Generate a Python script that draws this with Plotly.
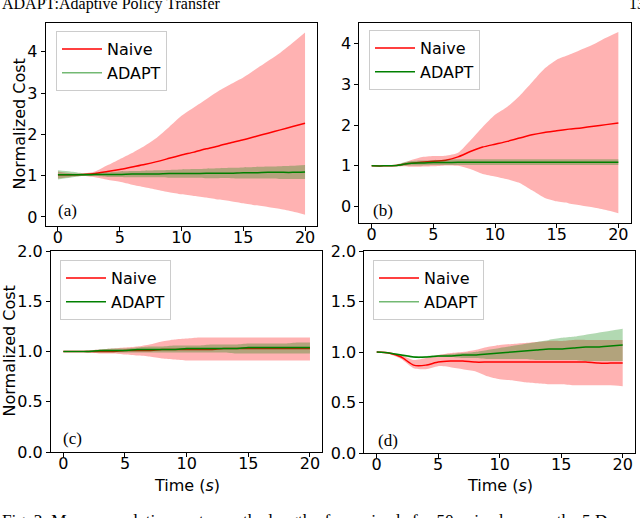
import plotly.graph_objects as go

# time grid (s)
T = [0, 1, 2, 3, 4, 5, 6, 7, 8, 9, 10, 11, 12, 13, 14, 15, 16, 17, 18, 19, 20]

# ---- panel (a) ----
naive_a_mean = [1.02, 1.02, 1.03, 1.05, 1.10, 1.15, 1.21, 1.27, 1.34, 1.42, 1.50,
                1.57, 1.65, 1.72, 1.80, 1.87, 1.95, 2.03, 2.11, 2.19, 2.27]
naive_a_hi = [1.10, 1.06, 1.05, 1.10, 1.25, 1.40, 1.55, 1.72, 1.92, 2.18, 2.45,
              2.65, 2.85, 3.05, 3.22, 3.38, 3.58, 3.78, 3.98, 4.22, 4.47]
naive_a_lo = [0.93, 0.97, 0.99, 0.96, 0.90, 0.85, 0.78, 0.72, 0.66, 0.60, 0.55,
              0.51, 0.47, 0.42, 0.38, 0.33, 0.28, 0.24, 0.19, 0.13, 0.05]
adapt_a_mean = [1.02, 1.02, 1.02, 1.03, 1.03, 1.03, 1.04, 1.04, 1.04, 1.05, 1.05,
                1.05, 1.06, 1.06, 1.06, 1.07, 1.07, 1.08, 1.08, 1.08, 1.09]
adapt_a_hi = [1.13, 1.10, 1.06, 1.06, 1.08, 1.10, 1.11, 1.12, 1.13, 1.14, 1.15,
              1.16, 1.17, 1.18, 1.19, 1.20, 1.21, 1.22, 1.23, 1.24, 1.26]
adapt_a_lo = [0.91, 0.95, 0.99, 0.99, 0.97, 0.97, 0.96, 0.96, 0.96, 0.95, 0.95,
              0.95, 0.94, 0.94, 0.94, 0.93, 0.93, 0.93, 0.92, 0.92, 0.92]

# ---- panel (b) ----
naive_b_mean = [1.00, 1.00, 1.01, 1.06, 1.09, 1.11, 1.14, 1.22, 1.35, 1.46, 1.53,
                1.60, 1.68, 1.76, 1.82, 1.86, 1.90, 1.93, 1.97, 2.01, 2.05]
naive_b_hi = [1.00, 1.00, 1.02, 1.12, 1.21, 1.24, 1.25, 1.32, 1.62, 1.95, 2.25,
              2.45, 2.72, 3.05, 3.38, 3.60, 3.72, 3.85, 3.98, 4.14, 4.28]
naive_b_lo = [1.00, 1.00, 0.99, 0.98, 0.98, 0.99, 1.01, 1.00, 0.92, 0.80, 0.74,
              0.67, 0.58, 0.40, 0.22, 0.13, 0.08, 0.03, -0.02, -0.08, -0.16]
adapt_b_mean = [1.00, 1.00, 1.01, 1.06, 1.07, 1.08, 1.08, 1.09, 1.09, 1.09, 1.09,
                1.09, 1.09, 1.09, 1.09, 1.09, 1.09, 1.09, 1.09, 1.09, 1.09]
adapt_b_hi = [1.00, 1.00, 1.03, 1.11, 1.13, 1.14, 1.15, 1.16, 1.16, 1.16, 1.16,
              1.16, 1.16, 1.16, 1.16, 1.16, 1.16, 1.16, 1.16, 1.16, 1.16]
adapt_b_lo = [1.00, 1.00, 0.99, 1.01, 1.01, 1.02, 1.02, 1.02, 1.02, 1.02, 1.02,
              1.02, 1.02, 1.02, 1.02, 1.02, 1.02, 1.02, 1.02, 1.02, 1.02]

# ---- panel (c) ----
naive_c_mean = [1.00, 1.00, 1.00, 1.00, 1.00, 1.01, 1.01, 1.01, 1.02, 1.02, 1.02,
                1.02, 1.02, 1.03, 1.03, 1.03, 1.03, 1.03, 1.03, 1.03, 1.03]
naive_c_hi = [1.00, 1.00, 1.01, 1.02, 1.03, 1.04, 1.05, 1.07, 1.10, 1.12, 1.13,
              1.14, 1.14, 1.14, 1.14, 1.14, 1.14, 1.14, 1.14, 1.14, 1.14]
naive_c_lo = [1.00, 1.00, 0.99, 0.98, 0.98, 0.97, 0.96, 0.95, 0.93, 0.92, 0.91,
              0.91, 0.91, 0.91, 0.91, 0.91, 0.91, 0.91, 0.91, 0.91, 0.91]
adapt_c_mean = [1.00, 1.00, 1.00, 1.01, 1.01, 1.01, 1.02, 1.02, 1.02, 1.02, 1.03,
                1.03, 1.03, 1.03, 1.03, 1.04, 1.04, 1.04, 1.04, 1.04, 1.04]
adapt_c_hi = [1.00, 1.00, 1.01, 1.02, 1.03, 1.03, 1.04, 1.05, 1.05, 1.06, 1.06,
              1.06, 1.07, 1.07, 1.07, 1.08, 1.08, 1.08, 1.08, 1.09, 1.09]
adapt_c_lo = [1.00, 1.00, 0.99, 0.99, 0.99, 0.99, 0.99, 0.99, 0.99, 0.99, 0.99,
              0.99, 0.99, 0.99, 0.98, 0.98, 0.98, 0.98, 0.98, 0.98, 0.98]

# ---- panel (d) ----
naive_d_mean = [1.00, 0.99, 0.95, 0.87, 0.87, 0.90, 0.91, 0.91, 0.90, 0.90, 0.90,
                0.90, 0.90, 0.90, 0.90, 0.90, 0.90, 0.90, 0.89, 0.89, 0.89]
naive_d_hi = [1.00, 1.00, 0.97, 0.92, 0.94, 0.97, 0.99, 1.00, 1.02, 1.05, 1.07,
              1.08, 1.09, 1.10, 1.11, 1.11, 1.12, 1.12, 1.12, 1.12, 1.12]
naive_d_lo = [1.00, 0.98, 0.93, 0.84, 0.83, 0.86, 0.85, 0.83, 0.81, 0.76, 0.73,
              0.72, 0.70, 0.69, 0.68, 0.68, 0.67, 0.67, 0.67, 0.67, 0.66]
adapt_d_mean = [1.00, 0.99, 0.97, 0.95, 0.95, 0.96, 0.96, 0.97, 0.97, 0.98, 0.99,
                1.00, 1.01, 1.02, 1.03, 1.03, 1.04, 1.05, 1.05, 1.06, 1.07]
adapt_d_hi = [1.00, 0.99, 0.98, 0.96, 0.96, 0.97, 0.98, 0.99, 1.00, 1.02, 1.04,
              1.06, 1.08, 1.10, 1.12, 1.14, 1.15, 1.17, 1.19, 1.21, 1.23]
adapt_d_lo = [1.00, 0.99, 0.96, 0.94, 0.94, 0.95, 0.95, 0.94, 0.94, 0.93, 0.93,
              0.93, 0.93, 0.92, 0.92, 0.92, 0.92, 0.91, 0.91, 0.91, 0.91]

PANEL_LABELS = ["(a)", "(b)", "(c)", "(d)"]
SERIES = ["Naive", "ADAPT"]

W, H = 640, 518
SANS = "DejaVu Sans"
SERIF = "Liberation Serif"
RED, GREEN = "#ff0000", "#008000"
RED_FILL, GREEN_FILL = "rgba(255,0,0,0.3)", "rgba(0,128,0,0.3)"

# pixel boxes: (left, right, top, bottom), y range, legend box (x, y), ADAPT legend colour
panels = [
    dict(box=(45.6, 317.4, 23, 226), yr=[-0.22, 4.70], dtick=1, fmt="d",
         data=(naive_a_mean, naive_a_hi, naive_a_lo, adapt_a_mean, adapt_a_hi, adapt_a_lo),
         leg=(56, 31), lg="rgba(0,128,0,0.55)", lab=(56, 210)),
    dict(box=(359.3, 630.7, 23, 223), yr=[-0.40, 4.50], dtick=1, fmt="d",
         data=(naive_b_mean, naive_b_hi, naive_b_lo, adapt_b_mean, adapt_b_hi, adapt_b_lo),
         leg=(369, 30), lg=GREEN, lab=(371, 210)),
    dict(box=(51, 322.3, 251, 452), yr=[0, 2], dtick=0.5, fmt=".1f",
         data=(naive_c_mean, naive_c_hi, naive_c_lo, adapt_c_mean, adapt_c_hi, adapt_c_lo),
         leg=(60, 260), lg=GREEN, lab=(61, 438)),
    dict(box=(364.4, 635, 251, 453), yr=[0, 2], dtick=0.5, fmt=".1f",
         data=(naive_d_mean, naive_d_hi, naive_d_lo, adapt_d_mean, adapt_d_hi, adapt_d_lo),
         leg=(373, 260), lg="rgba(0,128,0,0.55)", lab=(376, 440)),
]


def px(x):
    return x / W


def py(y):
    return 1 - y / H


fig = go.Figure()
layout = {}
annotations = []
for i, p in enumerate(panels):
    n = "" if i == 0 else str(i + 1)
    xa, ya = "x" + n, "y" + n
    legname = "legend" + n
    nm, nh, nl, am, ah, al = p["data"]
    spline = dict(shape="spline", smoothing=0.6)
    # bands + means (red under green)
    for hi, lo, mean, col, fc in [(nh, nl, nm, RED, RED_FILL), (ah, al, am, GREEN, GREEN_FILL)]:
        fig.add_trace(go.Scatter(x=T, y=hi, mode="lines", line=dict(width=0, **spline),
                                 showlegend=False, hoverinfo="skip", xaxis=xa, yaxis=ya))
        fig.add_trace(go.Scatter(x=T, y=lo, mode="lines", line=dict(width=0, **spline),
                                 fill="tonexty", fillcolor=fc, showlegend=False,
                                 hoverinfo="skip", xaxis=xa, yaxis=ya))
        fig.add_trace(go.Scatter(x=T, y=mean, mode="lines", line=dict(color=col, width=1.5, **spline),
                                 showlegend=False, xaxis=xa, yaxis=ya))
    # legend entries
    for name, col in zip(SERIES, [RED, p["lg"]]):
        fig.add_trace(go.Scatter(x=[None], y=[None], mode="lines", name=name,
                                 line=dict(color=col, width=1.5), legend=legname,
                                 xaxis=xa, yaxis=ya))

    l, r, t, b = p["box"]
    axis_common = dict(showline=True, mirror=True, linecolor="black", linewidth=1,
                       ticks="outside", ticklen=4, tickcolor="black", showgrid=False,
                       zeroline=False, automargin=False,
                       tickfont=dict(family=SANS, size=16, color="black"))
    layout["xaxis" + n] = dict(domain=[px(l), px(r)], range=[-1, 21], tickvals=[0, 5, 10, 15, 20],
                               anchor=ya, ticklabelstandoff=-7, **axis_common)
    layout["yaxis" + n] = dict(domain=[py(b), py(t)], range=p["yr"], dtick=p["dtick"],
                               tickformat=p["fmt"], anchor=xa, **axis_common)
    lx, ly = p["leg"]
    layout[legname] = dict(x=px(lx), y=py(ly), xanchor="left", yanchor="top",
                           bgcolor="rgba(255,255,255,0.8)", bordercolor="#cccccc", borderwidth=1,
                           font=dict(family=SANS, size=16, color="black"),
                           itemwidth=40, tracegroupgap=0, traceorder="normal")
    annotations.append(dict(x=px(p["lab"][0]), y=py(p["lab"][1]), xref="paper", yref="paper",
                            text=PANEL_LABELS[i], showarrow=False, xanchor="left",
                            yanchor="middle", font=dict(family=SERIF, size=17, color="black")))

# axis titles
for cx, cy in [(19, 124.5), (8.5, 351)]:
    annotations.append(dict(x=px(cx), y=py(cy), xref="paper", yref="paper",
                            text="Normalized Cost", textangle=-90, showarrow=False,
                            xanchor="center", yanchor="middle",
                            font=dict(family=SANS, size=16, color="black")))
for cx in [187, 500]:
    annotations.append(dict(x=px(cx), y=py(485), xref="paper", yref="paper",
                            text="Time (<i>s</i>)", showarrow=False,
                            xanchor="center", yanchor="middle",
                            font=dict(family=SANS, size=16, color="black")))

# page header / caption fragments
annotations.append(dict(x=0, y=py(4), xref="paper", yref="paper", xanchor="left", yanchor="middle",
                        text="ADAPT:Adaptive Policy Transfer", showarrow=False,
                        font=dict(family=SERIF, size=16, color="black")))
annotations.append(dict(x=px(627), y=py(4), xref="paper", yref="paper", xanchor="left",
                        yanchor="middle", text="13", showarrow=False,
                        font=dict(family=SERIF, size=16, color="black")))
annotations.append(dict(x=0, y=py(509), xref="paper", yref="paper", xanchor="left", yanchor="top",
                        text="Fig. 3: Mean cumulative cost over the length of an episode for 50 "
                             "episodes over the 5 Door environments",
                        showarrow=False, font=dict(family=SERIF, size=17.25, color="black")))

fig.update_layout(width=W, height=H, margin=dict(l=0, r=0, t=0, b=0),
                  paper_bgcolor="white", plot_bgcolor="white",
                  annotations=annotations, **layout)

fig.write_html("out.html", config={"displayModeBar": False},
               post_script="document.body.style.margin='0';")
